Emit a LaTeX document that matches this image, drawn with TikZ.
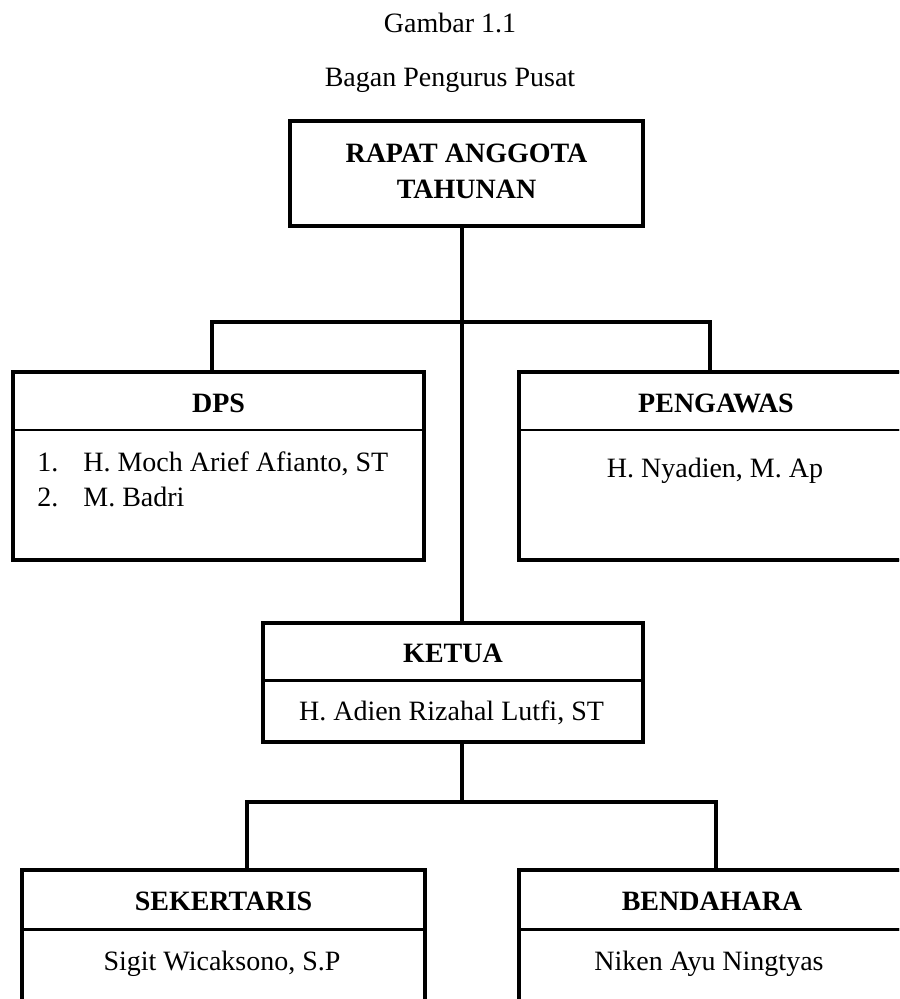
\documentclass[tikz,border=0pt]{standalone}
\usepackage{fontspec}
\setmainfont{Liberation Serif}
\usetikzlibrary{positioning,fit}

\begin{document}
\begin{tikzpicture}[
        x=0.5pt, y=-0.5pt,
        every node/.style={font=\fontsize{14}{17.5}\selectfont},
        kepala/.style={draw, line width=1.1pt, inner sep=0pt, outer sep=0pt,
                text height=11.3pt, text depth=0pt,
                font=\fontsize{14}{17.5}\selectfont\bfseries},
        badan/.style={draw, line width=1.1pt, inner sep=0pt, outer sep=0pt},
        bingkai/.style={draw, line width=1.8pt, inner sep=0pt, outer sep=0pt},
        nama/.style={anchor=base, inner sep=0pt},
        garis/.style={line width=1.6pt}
    ]
    \useasboundingbox (0,0) rectangle (899,999);
    \clip (0,0) rectangle (899,999);

    % judul
    \node[nama] (nomor) at (450,33) {Gambar 1.1};
    \node[nama] (judul) at (450,87) {Bagan Pengurus Pusat};

    % rapat anggota tahunan
    \node[draw, line width=2pt, outer sep=0pt, minimum width=176.5pt, minimum height=52.5pt,
        font=\fontsize{14}{18}\selectfont\bfseries] (rat) at (466.5,173.5)
        {\begin{tabular}{c}RAPAT ANGGOTA\\TAHUNAN\end{tabular}};

    % DPS dan pengawas
    \node[kepala, minimum width=205.5pt, minimum height=29pt] (dpshead) at (218.5,401) {DPS};
    \node[badan, minimum width=205.5pt, minimum height=65pt, below=0pt of dpshead] (dpsbody) {};
    \node[bingkai, fit=(dpshead)(dpsbody)] (dps) {};
    \node[anchor=base west, inner sep=0pt] (dpsisi) at (37,471)
        {\begin{tabular}[t]{@{}l@{\hspace{12.5pt}}l@{}}1. & H. Moch Arief Afianto, ST\\2. & M. Badri\end{tabular}};

    \node[kepala, minimum width=197pt, minimum height=29pt] (pengawashead) at (716,401) {PENGAWAS};
    \node[badan, minimum width=197pt, minimum height=65pt, below=0pt of pengawashead] (pengawasbody) {};
    \node[bingkai, fit=(pengawashead)(pengawasbody)] (pengawas) {};
    \node[nama] (pengawasisi) at (715,477) {H. Nyadien, M. Ap};

    % ketua
    \node[kepala, line width=1.5pt, minimum width=190pt, minimum height=28.5pt] (ketuahead) at (453,651.5) {KETUA};
    \node[badan, line width=1.5pt, minimum width=190pt, minimum height=31pt, below=0pt of ketuahead] (ketuabody) {};
    \node[bingkai, line width=2pt, fit=(ketuahead)(ketuabody)] (ketua) {};
    \node[nama] (ketuaisi) at (451.5,720) {H. Adien Rizahal Lutfi, ST};

    % sekertaris dan bendahara
    \node[kepala, line width=1.5pt, minimum width=201.5pt, minimum height=29.5pt] (sekhead) at (223.5,899.5) {SEKERTARIS};
    \node[badan, line width=1.5pt, minimum width=201.5pt, minimum height=50pt, below=0pt of sekhead] (sekbody) {};
    \node[bingkai, line width=2pt, fit=(sekhead)(sekbody)] (sek) {};
    \node[nama] (sekisi) at (222,970) {Sigit Wicaksono, S.P};

    \node[kepala, line width=1.5pt, minimum width=193pt, minimum height=29.5pt] (benhead) at (712,899.5) {BENDAHARA};
    \node[badan, line width=1.5pt, minimum width=193pt, minimum height=50pt, below=0pt of benhead] (benbody) {};
    \node[bingkai, line width=2pt, fit=(benhead)(benbody)] (ben) {};
    \node[nama] (benisi) at (709,970) {Niken Ayu Ningtyas};

    % garis penghubung
    \coordinate (cabang1) at (462,322);
    \coordinate (kiri1) at (212,322);
    \coordinate (kanan1) at (710,322);
    \coordinate (cabang2) at (462,802);
    \coordinate (kiri2) at (247,802);
    \coordinate (kanan2) at (716,802);
    \draw[garis] (cabang1 |- rat.south) -- (cabang1 |- ketua.north);
    \draw[garis] (kiri1 |- dps.north) -- (kiri1) -- (kanan1) -- (kanan1 |- pengawas.north);
    \draw[garis] (cabang2 |- ketua.south) -- (cabang2);
    \draw[garis] (kiri2 |- sek.north) -- (kiri2) -- (kanan2) -- (kanan2 |- ben.north);
\end{tikzpicture}
\end{document}
